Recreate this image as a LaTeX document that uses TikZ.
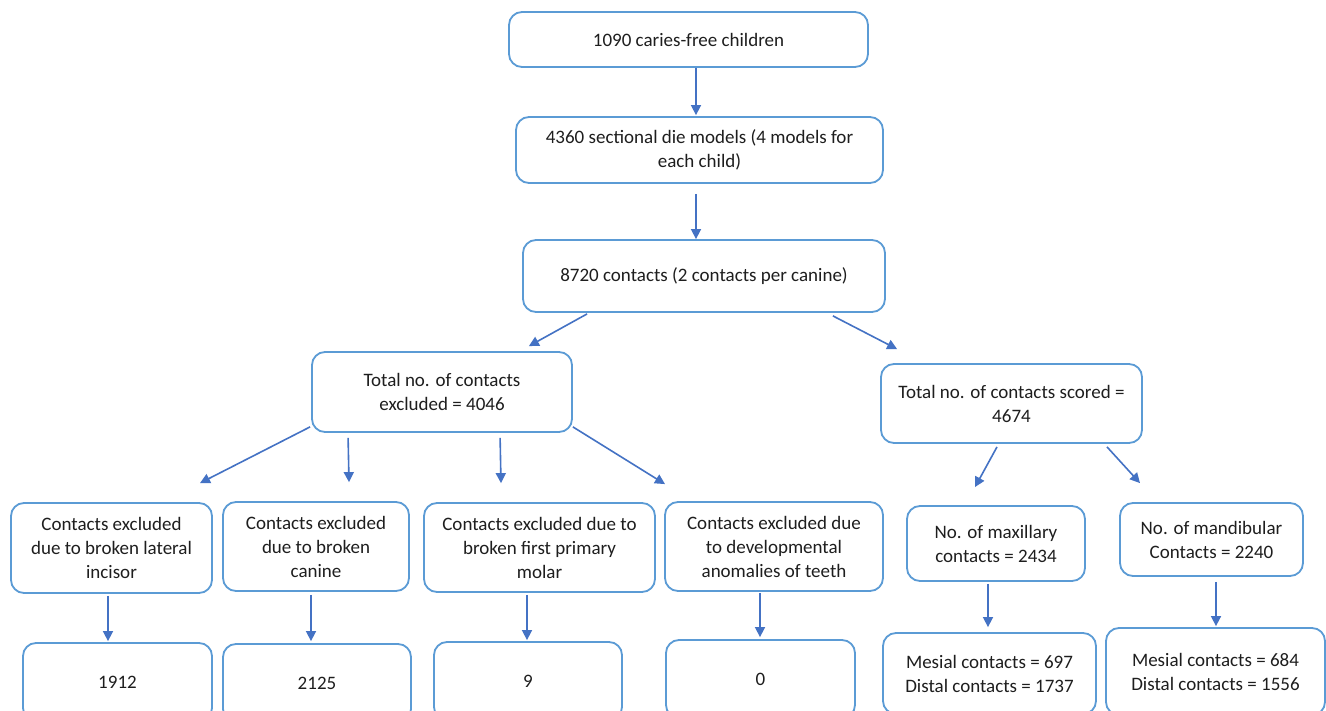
\documentclass[tikz,border=0pt]{standalone}
\usepackage{fontspec}
\setmainfont{Carlito}
\usetikzlibrary{arrows.meta,calc}
\definecolor{boxblue}{HTML}{5B9BD5}
\definecolor{arrblue}{HTML}{4472C4}
\definecolor{txt}{HTML}{1E1E1E}
\tikzset{
  fbox/.style={draw=boxblue, line width=1.8pt, rounded corners=13pt, fill=white,
    align=center, inner sep=0pt, text=txt, font=\fontsize{19}{24}\selectfont},
  arr/.style={draw=arrblue, line width=1.6pt, -{Triangle[length=10pt,width=10pt]}},
}
\begin{document}
\begin{tikzpicture}[x=1pt,y=-1pt]
\useasboundingbox (0,0) rectangle (1326,711);
\fill[white] (0,0) rectangle (1326,711);
\begin{scope}
\clip (0,0) rectangle (1326,711);
% nodes
\node[fbox, minimum width=359pt, minimum height=55pt] (top) at (688.5,39.5) {1090 caries-free children};
\node[fbox, minimum width=367pt, minimum height=66pt] (models) at (699.5,150) {4360 sectional die models (4 models for\\each child)};
\node[fbox, minimum width=362pt, minimum height=72pt] (contacts) at (704,276) {8720 contacts (2 contacts per canine)};
\node[fbox, minimum width=260pt, minimum height=80pt] (excl) at (442,392) {Total no. of contacts\\excluded = 4046};
\node[fbox, minimum width=261pt, minimum height=79pt] (scored) at (1011.5,403.5) {Total no. of contacts scored =\\4674};
\node[fbox, minimum width=201pt, minimum height=90pt] (A) at (111.5,548) {Contacts excluded\\due to broken lateral\\incisor};
\node[fbox, minimum width=186pt, minimum height=89pt] (B) at (316,546.5) {Contacts excluded\\due to broken\\canine};
\node[fbox, minimum width=231pt, minimum height=89pt] (C) at (539.5,547.5) {Contacts excluded due to\\broken first primary\\molar};
\node[fbox, minimum width=218pt, minimum height=89pt] (D) at (774,546.5) {Contacts excluded due\\to developmental\\anomalies of teeth};
\node[fbox, minimum width=178pt, minimum height=75pt] (E) at (996,543.5) {No. of maxillary\\contacts = 2434};
\node[fbox, minimum width=183pt, minimum height=73pt] (F) at (1211.5,539.5) {No. of mandibular\\Contacts = 2240};
\node[fbox, minimum width=189pt, minimum height=78pt] (A2) at (117.5,682) {1912};
\node[fbox, minimum width=188pt, minimum height=78pt] (B2) at (317,683) {2125};
\node[fbox, minimum width=188pt, minimum height=78pt] (C2) at (528,681) {9};
\node[fbox, minimum width=189pt, minimum height=78pt] (D2) at (760.5,679) {0};
\node[fbox, minimum width=213pt, minimum height=81pt] (E2) at (989.5,673.5) {Mesial contacts = 697\\Distal contacts = 1737};
\node[fbox, minimum width=219pt, minimum height=87pt] (F2) at (1215.5,671.5) {Mesial contacts = 684\\Distal contacts = 1556};
% connectors
\draw[arr] ([xshift=7.5pt]top.south) -- ([xshift=-3.5pt,yshift=1pt]models.north);
\draw[arr] ([xshift=-3.5pt,yshift=-10pt]models.south) -- ([xshift=-8pt]contacts.north);
\draw[arr] ([xshift=65pt,yshift=-1pt]contacts.south west) -- ([xshift=-44pt,yshift=5pt]excl.north east);
\draw[arr] ([xshift=-53pt,yshift=-3pt]contacts.south east) -- ([xshift=17pt,yshift=14pt]scored.north west);
\draw[arr] ([xshift=-1pt,yshift=6pt]excl.south west) -- ([xshift=88.5pt,yshift=19pt]A.north);
\draw[arr] ([xshift=37pt,yshift=-5pt]excl.south west) -- ([xshift=33pt,yshift=19pt]B.north);
\draw[arr] ([xshift=189pt,yshift=-5pt]excl.south west) -- ([xshift=-38.5pt,yshift=19pt]C.north);
\draw[arr] ([yshift=6pt]excl.south east) -- ([xshift=-109pt,yshift=17pt]D.north);
\draw[arr] ([xshift=-14.5pt,yshift=-3pt]scored.south) -- ([xshift=-21pt,yshift=18pt]E.north);
\draw[arr] ([xshift=95.5pt,yshift=-3pt]scored.south) -- ([xshift=-71.5pt,yshift=19pt]F.north);
\draw[arr] ([xshift=-3.5pt,yshift=-2pt]A.south) -- ([xshift=-9.5pt,yshift=1pt]A2.north);
\draw[arr] ([xshift=-5pt,yshift=-3pt]B.south) -- ([xshift=-6pt,yshift=2pt]B2.north);
\draw[arr] ([xshift=-12.5pt,yshift=-2pt]C.south) -- ([xshift=-1pt,yshift=1pt]C2.north);
\draw[arr] ([xshift=-14pt,yshift=-1pt]D.south) -- ([xshift=-0.5pt,yshift=2pt]D2.north);
\draw[arr] ([xshift=-8pt,yshift=-2pt]E.south) -- ([xshift=-1.5pt,yshift=5pt]E2.north);
\draw[arr] ([xshift=4.5pt,yshift=-5pt]F.south) -- ([xshift=0.5pt,yshift=1pt]F2.north);
\end{scope}
\end{tikzpicture}
\end{document}
